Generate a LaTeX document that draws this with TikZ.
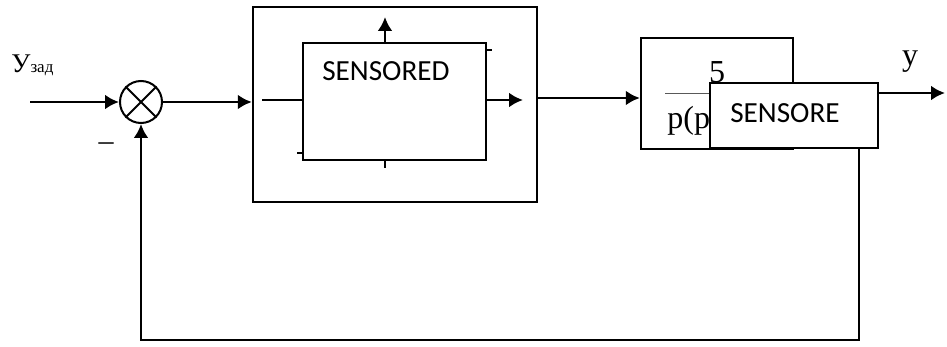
\documentclass[tikz,border=0pt]{standalone}
\usepackage{fontspec}
\setmainfont{Liberation Serif}
\newfontfamily\boxfont{Carlito}
\usepackage{tikz}
\usetikzlibrary{arrows.meta}
\usetikzlibrary{positioning}

\begin{document}
\begin{tikzpicture}[->,>={Latex[length=7pt,width=7.5pt]},line width=1.4pt,x=0.5pt,y=-0.5pt]
    \tikzstyle{block}=[draw, rectangle, line width=1.2pt, inner sep=0pt]
    \tikzstyle{sensor}=[block, fill=white]
    \tikzstyle{sensortext}=[font=\boxfont\fontsize{14.6}{16}\selectfont, inner sep=0pt]
    \tikzstyle{sumnode}=[draw, circle, line width=1pt, minimum size=21pt, inner sep=0pt]
    \tikzstyle{serif}=[font=\fontsize{15}{17}\selectfont, inner sep=0pt]
    \useasboundingbox (0,0) rectangle (947,347);
    %\draw[help lines,step=50] (0,0) grid (947,347);

    % summing junction
    \node[sumnode] (sum) at (141,102) {};
    \draw[-,line width=1pt] (sum.north west) -- (sum.south east) (sum.north east) -- (sum.south west);
    \node[serif, anchor=base west] (ref) at (10,73) {{\fontsize{13.5}{15}\selectfont У}{\fontsize{8.5}{10}\selectfont зад}};
    \node[serif] (minus) at (106,147) {–};

    % regulator with the sensor inside
    \node[block, minimum width=142pt, minimum height=97.5pt] (ctrl) at (395,104.5) {};
    \node[block, minimum width=91.5pt, minimum height=58.5pt] (sens1) at (394.5,101.5) {};
    \node[sensortext] (sens1txt) at (386,71) {SENSORED};

    % plant
    \node[block, minimum width=76pt, minimum height=55.5pt] (plant) at (717,93.5) {};
    \node[font=\fontsize{16}{18}\selectfont, inner sep=0pt] (num) at (717,72) {5};
    \node[font=\fontsize{16}{18}\selectfont, inner sep=0pt, anchor=west] (den) at (666,121) {p(p};
    \draw[-,line width=0.5pt,gray!70!black] (den.west |- plant.center) ++(-1,0) coordinate (fl) -- ++(100,0);
    \node[sensor, minimum width=84pt, minimum height=32.5pt] (sens2) at (794,115.5) {};
    \node[sensortext] (sens2txt) at (785,113) {SENSORE};
    \node[serif, font=\fontsize{16}{18}\selectfont] (yout) at (910,62) {y};

    \coordinate (in) at (30,102);
    \coordinate (c1) at (262,100);
    \coordinate (c2) at (523,100);
    \coordinate (up) at (385,17);
    \coordinate (dn) at (385,168);
    \coordinate (p1) at (537,98);
    \coordinate (out) at (945,93);
    \coordinate (fb) at (859,340);

    \path
        (in) edge (sum.west)
        (sum.east) edge (ctrl.west |- sum.east)
        (c1) edge[-] (sens1.west |- c1)
        (sens1.east |- c2) edge (c2)
        (up |- sens1.north) edge (up)
        (p1) edge (plant.west |- p1)
        (sens2.east |- out) edge (out)
    ;
    \draw[-] (up |- sens1.south) -- (dn);
    \draw[-,line width=0.9pt] (sens1.north east) ++(0,8) -- ++(5,0);
    \draw[-,line width=0.9pt] (sens1.south west) ++(0,-8) -- ++(-5,0);

    % feedback loop
    \draw (sens2.south -| fb) -- (fb) -| (sum.south);
\end{tikzpicture}
\end{document}
